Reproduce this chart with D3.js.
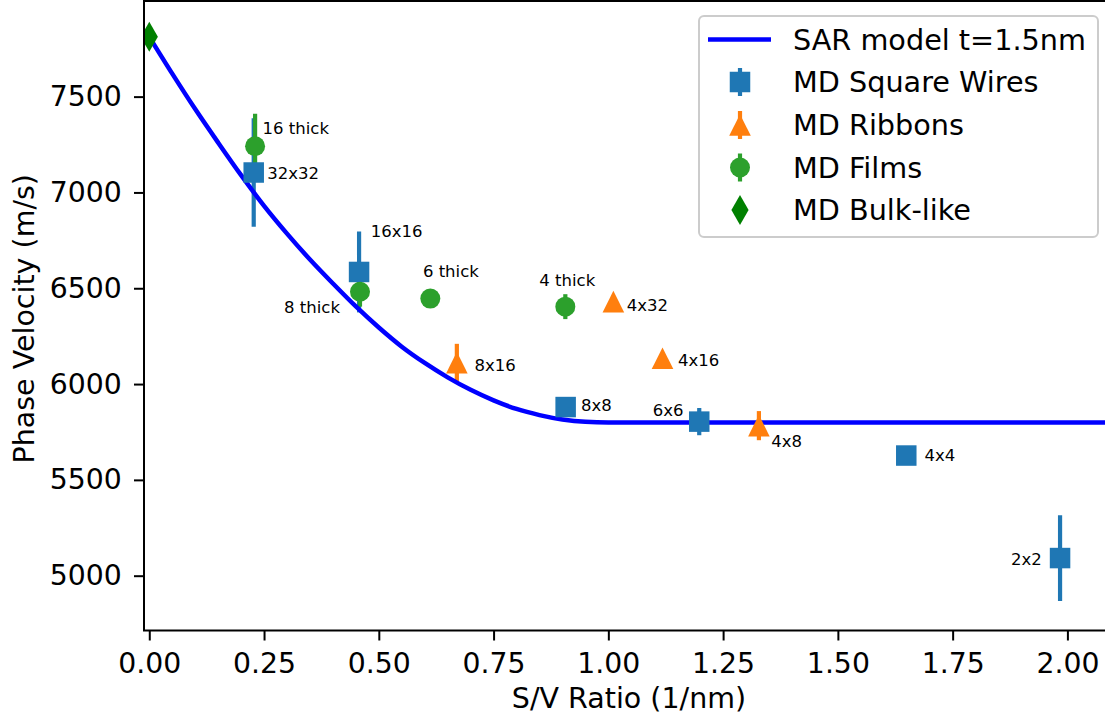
<!DOCTYPE html>
<html><head><meta charset="utf-8">
<script src="https://cdn.jsdelivr.net/npm/d3@7"></script>
<style>
body{margin:0;background:#fff}
svg{display:block;font-family:"DejaVu Sans",sans-serif}
</style>
</head><body>
<svg id="c" width="1105" height="724"></svg>
<script>
// ---------------- data ----------------
const modelX = [0.00,0.05,0.10,0.15,0.20,0.25,0.30,0.35,0.40,0.45,0.50,0.55,0.60,0.65,0.70,0.75,0.80,0.85,0.90,0.95,1.00,1.50,2.10];
const modelV = [7812,7620,7435,7260,7090,6930,6785,6650,6525,6405,6295,6195,6110,6035,5970,5915,5870,5838,5815,5803,5800,5800,5800];

const wireLabels = ["32x32","16x16","8x8","6x6","4x4","2x2"];
const wireX   = [0.2275,0.457,0.907,1.198,1.649,1.984];
const wireV   = [7104,6585,5880,5804,5627,5092];
const wireErr = [283,211,25,71,20,224];

const ribbonLabels = ["8x16","4x32","4x16","4x8"];
const ribbonX   = [0.670,1.011,1.118,1.328];
const ribbonV   = [6112,6430,6135,5783];
const ribbonErr = [98,20,20,76];

const filmLabels = ["16 thick","8 thick","6 thick","4 thick"];
const filmX   = [0.2305,0.459,0.6122,0.9063];
const filmV   = [7241,6482,6446,6404];
const filmErr = [169,78,20,65];

const bulkX = [0.0];
const bulkV = [7812];
const bulkErr = [0];

const xTicks = [0,0.25,0.5,0.75,1.0,1.25,1.5,1.75,2.0];
const yTicks = [5000,5500,6000,6500,7000,7500];

const legendLabels = ["SAR model t=1.5nm","MD Square Wires","MD Ribbons","MD Films","MD Bulk-like"];
const xTitle = "S/V Ratio (1/nm)";
const yTitle = "Phase Velocity (m/s)";

// ---------------- layout / style (not data) ----------------
const L = 144, R = 1114, T = 1, B = 630.5;
const C_BLUE = "#1f77b4", C_ORANGE = "#ff7f0e", C_GREEN = "#2ca02c", C_DGREEN = "#008000", C_LINE = "#0000ff";
// label offsets in px from marker centre: [dx, dy, anchor]
const wireOff   = [[13.5,6,"start"],[11.7,-35.4,"start"],[15.3,4.3,"start"],[-15.7,-5.4,"end"],[18.3,5.3,"start"],[-18.3,6.7,"end"]];
const ribbonOff = [[17.6,8,"start"],[13.4,9.2,"start"],[15.4,7.7,"start"],[12.3,21.6,"start"]];
const filmOff   = [[7.5,-12.4,"start"],[-20,21.6,"end"],[-7.4,-21.6,"start"],[-26,-20.7,"start"]];

const svg = d3.select("#c");
const x = d3.scaleLinear().domain([-0.0115, 2.1015]).range([L, R]);
const y = d3.scaleLinear().domain([4714, 7999]).range([B, T]);

svg.append("defs").append("clipPath").attr("id","clip")
  .append("rect").attr("x",L).attr("y",T).attr("width",R-L).attr("height",B-T);

const plot = svg.append("g").attr("clip-path","url(#clip)");

function marker(g, type, color, cx, cy){
  if(type==="s"){
    g.append("rect").attr("x",cx-10.25).attr("y",cy-10.25).attr("width",20.5).attr("height",20.5).attr("fill",color);
  } else if(type==="o"){
    g.append("circle").attr("cx",cx).attr("cy",cy).attr("r",10).attr("fill",color);
  } else if(type==="^"){
    const h=10.8;
    g.append("path").attr("d",`M${cx},${cy-h}L${cx+h},${cy+h}L${cx-h},${cy+h}Z`).attr("fill",color);
  } else if(type==="d"){
    const w=8.6,h=15;
    g.append("path").attr("d",`M${cx},${cy-h}L${cx+w},${cy}L${cx},${cy+h}L${cx-w},${cy}Z`).attr("fill",color);
  }
}

const series = [
  {xs:wireX, vs:wireV, es:wireErr, type:"s", color:C_BLUE, labels:wireLabels, off:wireOff},
  {xs:ribbonX, vs:ribbonV, es:ribbonErr, type:"^", color:C_ORANGE, labels:ribbonLabels, off:ribbonOff},
  {xs:filmX, vs:filmV, es:filmErr, type:"o", color:C_GREEN, labels:filmLabels, off:filmOff},
  {xs:bulkX, vs:bulkV, es:bulkErr, type:"d", color:C_DGREEN, labels:null, off:null}
];

// error bars (beneath everything)
const ebG = plot.append("g");
series.forEach(s=>{
  s.xs.forEach((xv,i)=>{
    if(s.es[i]>0){
      ebG.append("line").attr("x1",x(xv)).attr("x2",x(xv))
        .attr("y1",y(s.vs[i]-s.es[i])).attr("y2",y(s.vs[i]+s.es[i]))
        .attr("stroke",s.color).attr("stroke-width",4.2);
    }
  });
});

// model line
plot.append("path")
  .datum(modelX.map((v,i)=>[v,modelV[i]]))
  .attr("fill","none").attr("stroke",C_LINE).attr("stroke-width",4.5)
  .attr("d", d3.line().x(d=>x(d[0])).y(d=>y(d[1])).curve(d3.curveMonotoneX));

// markers
series.forEach(s=>{
  const g = plot.append("g");
  s.xs.forEach((xv,i)=>marker(g, s.type, s.color, x(xv), y(s.vs[i])));
});

// axes
const tickFont = 28.3;
const ax = svg.append("g").attr("transform",`translate(0,${B})`)
  .call(d3.axisBottom(x).tickValues(xTicks).tickFormat(d3.format(".2f")).tickSize(10).tickPadding(12.5));
const ay = svg.append("g").attr("transform",`translate(${L},0)`)
  .call(d3.axisLeft(y).tickValues(yTicks).tickFormat(d3.format("d")).tickSize(10).tickPadding(12.3));
[ax,ay].forEach(a=>{
  a.select(".domain").remove();
  a.selectAll(".tick line").attr("stroke","#000").attr("stroke-width",2);
  a.selectAll(".tick text").attr("fill","#000").style("font-size",tickFont+"px").style("font-family","DejaVu Sans");
});

// spines
const sp = svg.append("g").attr("stroke","#000").attr("stroke-width",2).attr("fill","none");
sp.append("rect").attr("x",L).attr("y",T).attr("width",R-L).attr("height",B-T);

// annotations
series.forEach(s=>{
  if(!s.labels) return;
  s.labels.forEach((lab,i)=>{
    svg.append("text").attr("x",x(s.xs[i])+s.off[i][0]).attr("y",y(s.vs[i])+s.off[i][1])
      .attr("text-anchor",s.off[i][2]).style("font-size","16.5px").attr("fill","#000").text(lab);
  });
});

// axis titles
svg.append("text").attr("x",(L+R)/2).attr("y",708).attr("text-anchor","middle")
  .style("font-size","28.5px").text(xTitle);
svg.append("text").attr("transform",`translate(33.5,${(T+B)/2+3}) rotate(-90)`).attr("text-anchor","middle")
  .style("font-size","28.5px").text(yTitle);

// legend
const lg = svg.append("g");
lg.append("rect").attr("x",699).attr("y",16).attr("width",399).attr("height",221).attr("rx",5)
  .attr("fill","#fff").attr("fill-opacity",0.8).attr("stroke","#cccccc").attr("stroke-width",2);
const rowY = [39.5,82,125,167.5,210];
lg.append("line").attr("x1",708).attr("x2",771).attr("y1",rowY[0]).attr("y2",rowY[0])
  .attr("stroke",C_LINE).attr("stroke-width",4.5);
series.forEach((s,i)=>{
  const cy = rowY[i+1];
  if(s.type!=="d"){
    lg.append("line").attr("x1",740).attr("x2",740).attr("y1",cy-14).attr("y2",cy+14)
      .attr("stroke",s.color).attr("stroke-width",4.2);
  }
  marker(lg, s.type, s.color, 740, cy);
});
legendLabels.forEach((t,i)=>{
  lg.append("text").attr("x",793).attr("y",rowY[i]+10.4).style("font-size","28.7px").attr("fill","#000").text(t);
});
</script>
</body></html>
